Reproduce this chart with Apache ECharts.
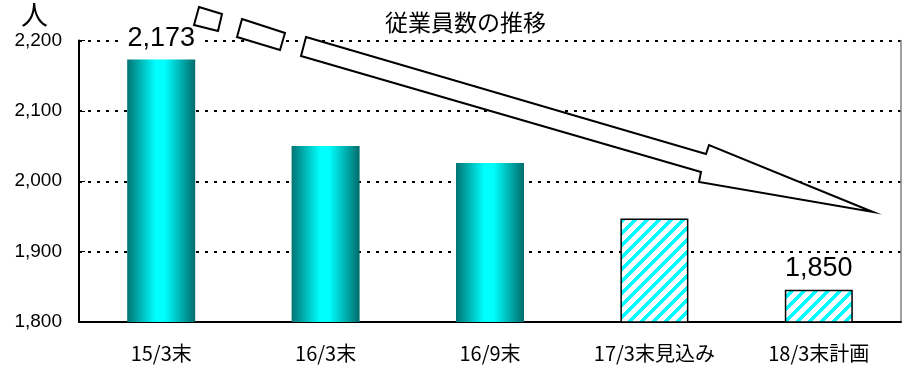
<!DOCTYPE html>
<html>
<head>
<meta charset="utf-8">
<script src="https://cdn.jsdelivr.net/npm/echarts@6/dist/echarts.min.js"></script>
<style>
html,body{margin:0;padding:0;background:#fff;}
#main{width:903px;height:369px;}
</style>
</head>
<body>
<div id="main"></div>
<script>
// 従業員数の推移
var categories = ['15/3末', '16/3末', '16/9末', '17/3末見込み', '18/3末計画'];
var values = [2173, 2050, 2026, 1947, 1846];
var valueLabels = ['2,173', '', '', '', '1,850'];
var planned = [false, false, false, true, true];   // 見込み・計画は斜線
var yTicks = [1800, 1900, 2000, 2100, 2200];

// 斜線パターン
function makeStripe() {
  var p = 12, c = document.createElement('canvas');
  c.width = p; c.height = p;
  var ctx = c.getContext('2d');
  var img = ctx.createImageData(p, p);
  for (var y = 0; y < p; y++) {
    for (var x = 0; x < p; x++) {
      var k = (y * p + x) * 4;
      var on = ((x + y) % p) < 5;
      img.data[k] = on ? 0 : 255;
      img.data[k + 1] = 255;
      img.data[k + 2] = 255;
      img.data[k + 3] = 255;
    }
  }
  ctx.putImageData(img, 0, 0);
  return c;
}
var stripe = makeStripe();

var grad = new echarts.graphic.LinearGradient(0, 0, 1, 0, [
  {offset: 0, color: '#007474'},
  {offset: 0.42, color: '#00ffff'},
  {offset: 0.55, color: '#00ffff'},
  {offset: 1, color: '#006c6c'}
]);

var barData = values.map(function (v, i) {
  return {
    value: v,
    itemStyle: planned[i]
      ? {color: {image: stripe, repeat: 'repeat'}, borderColor: '#000', borderWidth: 1.5}
      : {color: grad},
    label: {show: valueLabels[i] !== ''}
  };
});

var myChart = echarts.init(document.getElementById('main'));
myChart.setOption({
  animation: false,
  backgroundColor: '#fff',
  title: {
    text: '従業員数の推移',
    left: 380, top: 6,
    textStyle: {fontFamily: 'Noto Sans CJK JP', fontSize: 23, fontWeight: 'normal', color: '#000'}
  },
  grid: {left: 79, right: 2, top: 40.5, bottom: 47},
  xAxis: {
    type: 'category',
    data: categories,
    axisLine: {lineStyle: {color: '#000', width: 2}},
    axisTick: {inside: true, length: 5, lineStyle: {color: '#000'}},
    axisLabel: {fontFamily: 'Noto Sans CJK JP', fontSize: 20, color: '#000', margin: 21}
  },
  yAxis: [{
    type: 'value',
    min: 1800, max: 2200, interval: 100,
    axisLine: {show: true, lineStyle: {color: '#000', width: 2}},
    axisTick: {show: true, inside: true, length: 6, lineStyle: {color: '#000'}},
    axisLabel: {
      fontFamily: 'Liberation Sans', fontSize: 19, color: '#000', margin: 17,
      formatter: function (v) { return yTicks.indexOf(v) >= 0 ? v.toLocaleString('en-US') : ''; }
    },
    splitLine: {show: true, lineStyle: {color: '#000', type: [3, 6], width: 2}}
  }, {
    type: 'value',
    min: 1800, max: 2200, interval: 100,
    position: 'right',
    axisLine: {show: true, lineStyle: {color: '#808080', width: 1.5}},
    axisTick: {show: false}, axisLabel: {show: false}, splitLine: {show: false}
  }],
  series: [{
    type: 'bar',
    data: barData,
    barWidth: 68,
    label: {
      position: 'top', distance: 6,
      fontFamily: 'Liberation Sans', fontSize: 27, lineHeight: 30, color: '#000',
      backgroundColor: '#fff', padding: [0, 7],
      formatter: function (p) { return valueLabels[p.dataIndex]; }
    }
  }],
  graphic: [
    {type: 'text', left: 21, top: 1, style: {text: '人', font: '27px "Noto Sans CJK JP"', fill: '#000'}},
    // 減少を示す矢印
    {type: 'polygon', z: 100, shape: {points: [[199, 7], [222, 14], [218, 31], [194, 25]]},
      style: {fill: '#fff', stroke: '#000', lineWidth: 2}},
    {type: 'polygon', z: 100, shape: {points: [[242, 19], [285, 33], [280, 50], [237, 37]]},
      style: {fill: '#fff', stroke: '#000', lineWidth: 2}},
    {type: 'polygon', z: 100, shape: {points: [[306, 37], [706, 154], [709, 145], [873, 212], [699, 182], [701, 172], [301, 56]]},
      style: {fill: '#fff', stroke: '#000', lineWidth: 2}}
  ]
});
</script>
</body>
</html>
